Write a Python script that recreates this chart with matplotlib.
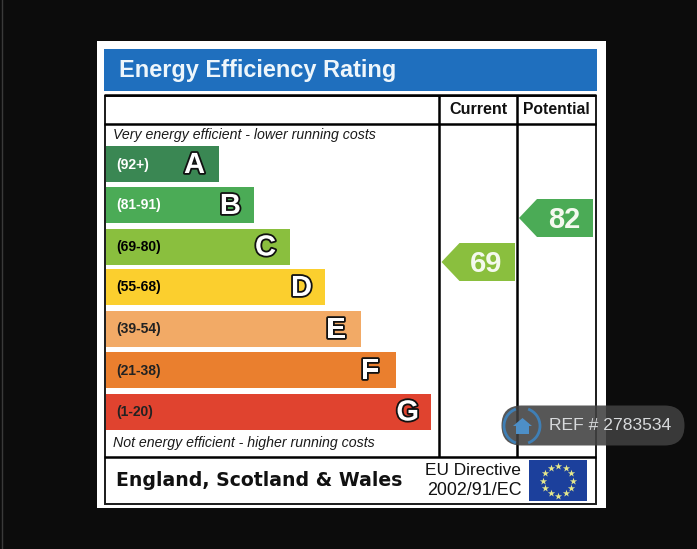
import numpy as np
import matplotlib.pyplot as plt
import matplotlib.patheffects as pe
from matplotlib.patches import Rectangle, Polygon, FancyBboxPatch, Arc

plt.rcParams["font.family"] = ["Liberation Sans", "DejaVu Sans"]

letters = ["A", "B", "C", "D", "E", "F", "G"]
ranges = ["(92+)", "(81-91)", "(69-80)", "(55-68)", "(39-54)", "(21-38)", "(1-20)"]
bar_lengths = [113, 148, 184, 219, 255, 290, 325]
bar_colors = ["#3a8753", "#4bab56", "#8abf3e", "#fbcf2e", "#f2aa66", "#ea7f2e", "#e0432f"]
range_colors = ["white", "white", "black", "black", "#222222", "#222222", "#222222"]
current = 69
potential = 82

fig = plt.figure(figsize=(6.97, 5.49), dpi=100, facecolor="#0c0c0c")
ax = fig.add_axes([0, 0, 1, 1])
ax.set_xlim(0, 697)
ax.set_ylim(549, 0)
ax.axis("off")

ax.plot([1.5, 1.5], [0, 549], color="#3a3a3a", lw=1)

# white card and blue title strip
ax.add_patch(Rectangle((97, 41), 509, 467, fc="white", ec="none"))
ax.add_patch(Rectangle((104, 49), 493, 42, fc="#1f6fbe", ec="none"))
ax.text(119, 70.5, "Energy Efficiency Rating", color="#eef6fb", fontsize=16.9,
        fontweight="bold", va="center", ha="left")

# table lines
ax.add_patch(Rectangle((104.5, 95.5), 491, 408, fc="none", ec="#1a1a1a", lw=1.4))
for y in [95, 124, 457]:
    ax.plot([104, 596], [y, y], color="black", lw=1.8, solid_capstyle="butt")
for x in [439, 517]:
    ax.plot([x, x], [95, 457], color="black", lw=1.8, solid_capstyle="butt")

ax.text(478, 110, "Current", fontsize=11.6, fontweight="bold", ha="center", va="center", color="#111111")
ax.text(556.5, 110, "Potential", fontsize=11.3, fontweight="bold", ha="center", va="center", color="#111111")

ax.text(113, 135.5, "Very energy efficient - lower running costs", fontsize=10.2,
        style="italic", va="center", color="#1a1a1a")
ax.text(113, 442.5, "Not energy efficient - higher running costs", fontsize=10.2,
        style="italic", va="center", color="#1a1a1a")

# rating bands
band_y = np.array([164, 205, 246.5, 287, 329, 370, 411.5])
letter_inset = [14, 13, 14, 13, 15, 17, 12]
ax.barh(band_y, bar_lengths, height=36, left=106, color=bar_colors, edgecolor="none")
outline = [pe.withStroke(linewidth=2.6, foreground="#111111")]
for y, length, inset, letter, label, col in zip(band_y, bar_lengths, letter_inset, letters, ranges, range_colors):
    ax.text(116.5, y + 0.5, label, fontsize=10, fontweight="bold", va="center", color=col)
    ax.text(106 + length - inset, y + 1, letter, fontsize=21, fontweight="bold", ha="right",
            va="center", color="white", path_effects=outline)


def pointer(value, y, tip_x, right, color):
    pts = [(tip_x, y), (tip_x + 18, y - 19), (right, y - 19), (right, y + 19), (tip_x + 18, y + 19)]
    ax.add_patch(Polygon(pts, closed=True, fc=color, ec="none"))
    ax.text((tip_x + right) / 2 + 8, y + 1.5, str(value), fontsize=21, fontweight="bold",
            ha="center", va="center", color="#f4f9ee")


pointer(current, 262, 441.5, 515, bar_colors[2])
pointer(potential, 218, 519, 593, bar_colors[1])

# footer
ax.text(116, 480.5, "England, Scotland & Wales", fontsize=13.6, fontweight="bold",
        family="DejaVu Sans", va="center", color="#111111")
ax.text(473, 470.5, "EU Directive", fontsize=12.4, ha="center", va="center", color="#111111")
ax.text(474, 490.5, "2002/91/EC", fontsize=12.9, ha="center", va="center", color="#111111")

# EU flag
ax.add_patch(Rectangle((529, 460), 58, 41, fc="#1c409c", ec="none"))
angles = np.deg2rad(np.arange(0, 360, 30))
ax.scatter(558 + 15 * np.cos(angles), 480.5 + 15 * np.sin(angles), marker="*", s=30,
           color="#e6e88c", linewidths=0, zorder=3)

# reference badge
ax.add_patch(FancyBboxPatch((501.5, 405.5), 183, 40, boxstyle="round,pad=0,rounding_size=20",
                            fc="#404040", ec="none", alpha=0.88, zorder=4))
ax.add_patch(Arc((522, 426), 36, 36, theta1=-70, theta2=70, ec="#3f7fb5", lw=2, zorder=5))
ax.add_patch(Arc((522, 426), 36, 36, theta1=110, theta2=250, ec="#3f7fb5", lw=2, zorder=5))
house = [(522.5, 418), (532, 426), (529, 426), (529, 434), (516, 434), (516, 426), (513, 426)]
ax.add_patch(Polygon(house, closed=True, fc="#4d8fc7", ec="none", zorder=5))
ax.text(549, 426, "REF # 2783534", fontsize=12.6, color="#d8dadc", va="center", zorder=6)

fig.savefig("out.png", dpi=100, facecolor=fig.get_facecolor())
